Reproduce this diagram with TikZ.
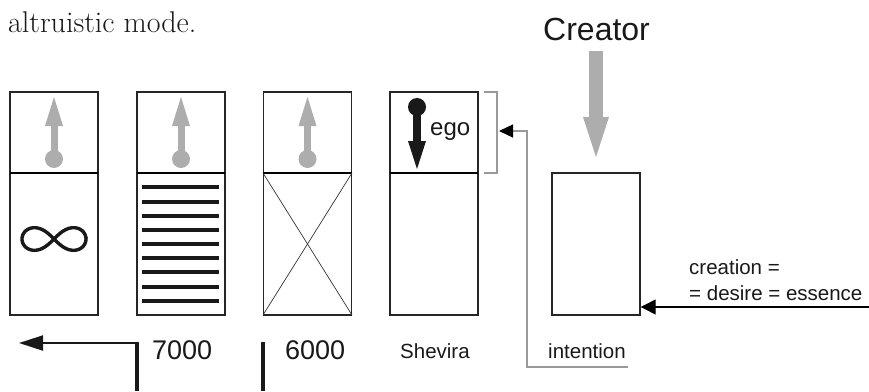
\documentclass[tikz,border=0pt]{standalone}
\usepackage{fontspec}
\newfontfamily\hv{Liberation Sans}
\usetikzlibrary{arrows.meta}
\begin{document}
\begin{tikzpicture}[x=1pt,y=-1pt,
  cell/.style={draw=black!85,line width=1.4pt,minimum width=88pt,inner sep=0pt},
  divider/.style={line width=2.4pt,black},
  hrule/.style={line width=3.2pt,black!90},
  cross/.style={line width=0.7pt,black!80},
  gb/.style={fill=black!32},
  lbl/.style={font=\hv\fontsize{20.5}{24}\selectfont,inner sep=0pt,anchor=base west,text=black!90},
  biglbl/.style={font=\hv\fontsize{27}{30}\selectfont,inner sep=0pt,anchor=base west,text=black!90},
  thinarrow/.style={line width=1.3pt,black,-{Triangle[length=15pt,width=15pt]}},
  graylink/.style={line width=1.2pt,black!40,-{Triangle[length=14pt,width=13pt,color=black]}},
  bar/.style={line width=4.5pt,black!90}
]
\useasboundingbox (0,0) rectangle (869,391);

% title
\node[font=\rmfamily\fontsize{30}{34}\selectfont,inner sep=0pt,anchor=base west,text=black!90] (title) at (8,32) {altruistic mode.};

% boxes
\node[cell,minimum height=223pt] (b1) at (54,203.5) {};
\node[cell,minimum height=223pt] (b2) at (181,203.5) {};
\node[cell,minimum height=223pt] (b3) at (307.5,203.5) {};
\node[cell,minimum height=223pt] (b4) at (434,203.5) {};
\node[cell,minimum height=142pt] (cbox) at (596,244) {};

% dividers
\foreach \xa/\xb in {10/98,137/225,263/352,390/478}
  \draw[divider] (\xa,173) -- (\xb,173);

% gray up arrows with balls
\foreach \cx in {54,181,307.5}{
  \fill[gb] (\cx,159) circle[radius=9];
  \fill[gb] (\cx-3.5,160) rectangle (\cx+3.5,124);
  \fill[gb] (\cx-9,126) -- (\cx+9,126) -- (\cx,97) -- cycle;
}

% ego arrow
\fill[black!90] (417,107) circle[radius=9];
\fill[black!90] (413,107) rectangle (421,143);
\fill[black!90] (408,141) -- (426,141) -- (417,169) -- cycle;
\node[font=\hv\fontsize{24}{28}\selectfont,inner sep=0pt,anchor=base west,text=black!90] (ego) at (430,135) {ego};

% infinity
\draw[line width=3.4pt,black!90] plot[domain=0:360,samples=120,smooth cycle]
  ({54+32*cos(\x)/(1+sin(\x)^2)},{239+32*sin(\x)*cos(\x)/(1+sin(\x)^2)});

% lines in box 2
\foreach \yy in {187,202,216,230,244,258,272,287,301}
  \draw[hrule] (142,\yy) -- (219,\yy);

% cross in box 3
\draw[cross] (263,173) -- (352,315);
\draw[cross] (352,173) -- (263,315);

% bracket
\draw[line width=1.1pt,black!40] (484,92) -- (497,92) -- (497,173) -- (484,173);

% Creator
\node[font=\hv\fontsize{32}{36}\selectfont,inner sep=0pt,anchor=base west,text=black!90] (creator) at (543,40) {Creator};
\fill[gb] (589,51) rectangle (603,118);
\fill[gb] (583,117) -- (609,117) -- (596,157) -- cycle;

% labels
\node[biglbl] (n7000) at (152,359) {7000};
\node[biglbl] (n6000) at (285,359) {6000};
\node[lbl] (shevira) at (400,358) {Shevira};
\node[lbl] (intention) at (548,358) {intention};
\node[lbl] (crea1) at (689,274) {creation =};
\node[lbl] (crea2) at (689,300) {= desire = essence};

% creation arrow
\coordinate (rin) at (869,307);
\draw[thinarrow] (rin) -- (cbox.east |- rin);

% intention link
\coordinate (intend) at (628,367);
\coordinate (brk) at (499,131);
\draw[graylink] (intend) -- (527,367) -- (527,131) -- (brk);

% bottom left arrow and bars
\coordinate (lt) at (19,343);
\coordinate (lbar) at (137,391);
\coordinate (mbar) at (263,391);
\draw[line width=2pt,black!90,-{Triangle[length=24pt,width=15pt]}] (137,343) -- (lt);
\draw[bar] (lbar) -- (137,342);
\draw[bar] (mbar) -- (263,342);
\end{tikzpicture}
\end{document}
